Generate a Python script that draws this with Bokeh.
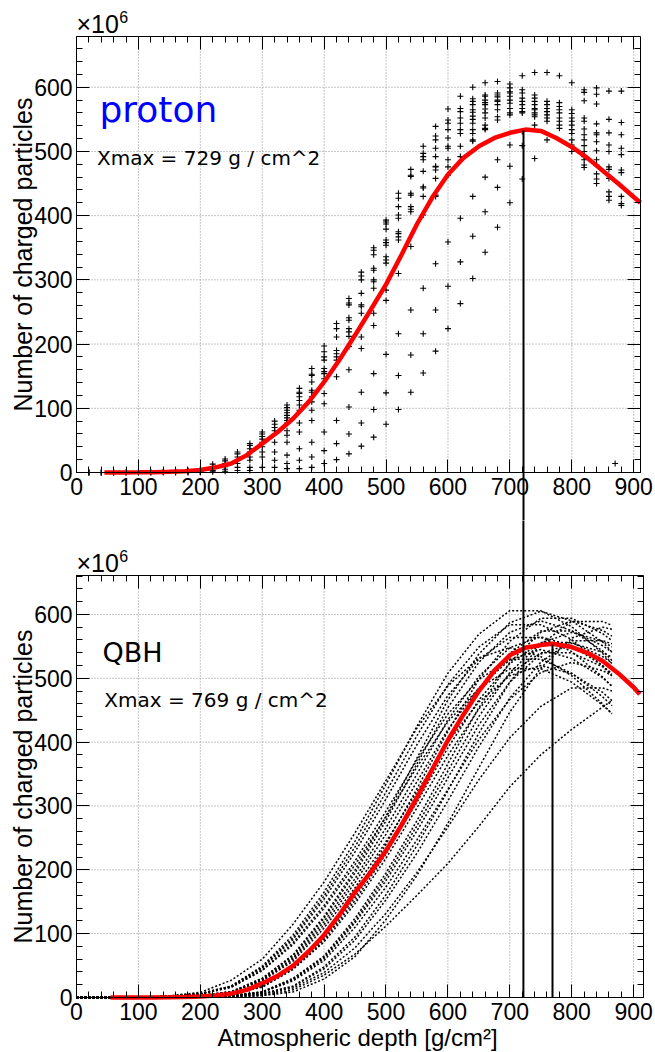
from bokeh.plotting import figure
from bokeh.models import Range1d, FixedTicker, LinearAxis, Label
from bokeh.layouts import column
from bokeh.embed import file_html
from bokeh.resources import INLINE

# ---------------- axes ----------------
x_ticks = [0, 100, 200, 300, 400, 500, 600, 700, 800, 900]
x_minor = list(range(0, 920, 20))
y_ticks = [0, 100, 200, 300, 400, 500, 600]
y_minor = list(range(0, 680, 20))

# ---------------- top panel: proton (x10^6 charged particles) ----------------
proton_columns = [20, 40, 60, 80, 100, 120, 140, 160, 180, 200, 220, 240, 260, 280, 300,
                  320, 340, 360, 380, 400, 420, 440, 460, 480, 500, 520, 540, 560, 580,
                  600, 620, 640, 660, 680, 700, 720, 740, 760, 780, 800, 820, 840, 860,
                  870, 880]
proton_counts = [
    [0, 0, 0], [0, 0, 0], [0, 0], [0, 0], [0, 0.5], [0, 0.5], [0, 1], [0, 1, 2],
    [0, 1, 2, 3], [0, 1, 2, 4, 5], [1, 3, 6, 9, 13], [2, 5, 9, 14, 18, 21],
    [3, 8, 14, 19, 24, 29, 32], [3, 8, 19, 24, 32, 37, 42, 45],
    [8, 24, 32, 40, 47, 52, 56, 60, 63], [8, 19, 32, 47, 60, 65, 70, 75, 80],
    [6, 14, 27, 47, 58, 65, 77, 81, 85, 89, 93, 97, 101, 105],
    [6, 19, 37, 63, 77, 97, 105, 112, 118, 123, 125, 131],
    [8, 24, 47, 81, 97, 110, 118, 125, 128, 141, 151, 153, 162],
    [14, 34, 63, 107, 123, 146, 154, 157, 162, 175, 180, 188, 197],
    [20, 45, 81, 149, 175, 180, 185, 190, 211, 224, 232],
    [29, 60, 102, 160, 196, 212, 219, 224, 237, 241, 261, 264, 271],
    [41, 77, 125, 193, 211, 248, 258, 261, 279, 300, 306, 312],
    [55, 98, 154, 229, 248, 287, 297, 300, 315, 318, 339, 346, 350],
    [75, 124, 184, 268, 284, 326, 331, 336, 354, 358, 362, 379, 387, 390, 393],
    [98, 151, 216, 310, 362, 367, 372, 375, 396, 401, 414, 427, 435],
    [125, 183, 253, 352, 406, 410, 414, 432, 435, 461, 463, 472],
    [155, 216, 287, 401, 430, 443, 445, 469, 487, 492, 497, 508],
    [189, 253, 325, 430, 432, 458, 471, 476, 477, 492, 505, 518, 524, 539],
    [224, 290, 359, 463, 476, 487, 505, 508, 521, 534, 544, 549, 566],
    [263, 328, 396, 492, 508, 528, 534, 544, 552, 562, 567, 586],
    [302, 368, 430, 516, 518, 528, 534, 544, 550, 555, 561, 565, 573, 578, 582, 600],
    [343, 406, 460, 534, 536, 541, 552, 560, 566, 573, 576, 580, 586, 588, 607],
    [382, 444, 487, 549, 554, 565, 573, 578, 580, 585, 588, 591, 609],
    [420, 477, 510, 557, 560, 567, 575, 580, 586, 591, 593, 599, 605],
    [457, 509, 531, 560, 562, 567, 573, 578, 583, 591, 596, 618],
    [489, 541, 554, 557, 560, 565, 567, 573, 578, 583, 588, 623],
    [518, 547, 552, 557, 562, 567, 573, 578, 623],
    [536, 541, 547, 552, 560, 565, 570, 576, 618],
    [500, 510, 518, 528, 534, 541, 547, 552, 559, 565, 607],
    [475, 479, 487, 492, 500, 509, 518, 526, 535, 547, 552, 579, 592, 596],
    [450, 457, 465, 479, 487, 501, 515, 526, 529, 543, 574, 589, 599],
    [424, 430, 437, 458, 472, 476, 500, 510, 529, 550, 594],
    [14],
    [416, 419, 430, 467, 471, 495, 505, 526, 545, 594],
]
proton_fit_depth = [45, 75, 100, 125, 150, 175, 200, 225, 250, 275, 300, 325, 350, 375, 400,
                    425, 450, 475, 500, 525, 550, 575, 600, 625, 650, 675, 700, 725, 750,
                    775, 800, 825, 850, 875, 900, 911]
proton_fit = [0, 0, 0.2, 0.5, 1, 2, 4, 8, 14, 27, 45, 63, 84, 110, 141,
              176, 214, 253, 293, 339, 387, 429, 464, 490, 508, 521, 529, 534, 532,
              521, 507, 490, 470, 450, 429, 420]
proton_xmax_line = [722]
proton_xmax_top = [533]

# ---------------- bottom panel: QBH ----------------
qbh_depth = [0, 50, 100, 150, 200, 250, 300, 350, 400, 450, 500, 550, 600, 650, 700,
             750, 800, 850, 865]
qbh_showers = [
    [0, 0.1, 0.6, 1.8, 6, 18, 49, 98, 165, 245, 334, 425, 508, 569, 606, 606, 581, 539, 523],
    [0, 0, 0.3, 0.9, 3, 9, 30, 67, 127, 200, 284, 375, 466, 538, 587, 605, 590, 557, 541],
    [0, 0.1, 0.6, 1.8, 6, 18, 47, 94, 159, 236, 322, 410, 490, 549, 584, 584, 561, 519, 504],
    [0, 0, 0.3, 0.9, 3, 9, 30, 65, 124, 195, 277, 366, 454, 525, 572, 590, 575, 543, 528],
    [0, 0, 0.1, 0.6, 1.8, 6, 18, 48, 96, 162, 240, 327, 417, 498, 558, 594, 594, 570, 559],
    [0, 0, 0.1, 0.6, 1.7, 6, 17, 46, 93, 157, 232, 316, 403, 481, 539, 574, 574, 551, 541],
    [0, 0.3, 0.8, 2.7, 8, 27, 60, 115, 181, 258, 340, 422, 488, 532, 548, 534, 504, 460, 444],
    [0, 0.1, 0.6, 1.7, 6, 17, 46, 91, 154, 228, 311, 396, 473, 530, 564, 564, 542, 502, 487],
    [0, 0, 0.3, 0.8, 2.8, 8.5, 28, 62, 119, 186, 266, 350, 435, 503, 548, 565, 551, 520, 506],
    [0, 0, 0.1, 0.6, 1.7, 5.6, 17, 45, 90, 152, 225, 306, 391, 466, 523, 556, 556, 534, 524],
    [0, 0, 0, 0.3, 0.9, 3, 8.9, 30, 65, 124, 195, 277, 366, 454, 525, 572, 590, 575, 566],
    [0, 0, 0, 0.3, 0.9, 2.9, 8.6, 29, 63, 120, 189, 269, 355, 440, 509, 555, 572, 558, 549],
    [0, 0, 0, 0.1, 0.6, 1.8, 6, 18, 48, 95, 161, 238, 324, 414, 494, 553, 589, 589, 583],
    [0, 0, 0.1, 0.5, 1.6, 5.5, 16, 44, 87, 147, 218, 297, 379, 452, 507, 540, 540, 518, 508],
    [0, 0, 0.3, 0.8, 2.7, 8.2, 27, 60, 114, 180, 256, 338, 420, 485, 529, 545, 531, 501, 488],
    [0, 0.1, 0.5, 1.6, 5.4, 16, 43, 86, 144, 214, 292, 372, 444, 498, 530, 530, 508, 471, 457],
    [0, 0.1, 0.5, 1.6, 5.2, 16, 42, 83, 140, 208, 283, 361, 432, 484, 515, 515, 494, 458, 445],
    [0, 0, 0, 0.3, 0.8, 2.8, 8.3, 28, 61, 117, 183, 261, 344, 427, 494, 538, 555, 541, 533],
    [0, 0, 0, 0.1, 0.6, 1.7, 5.7, 17, 45, 90, 153, 226, 308, 393, 469, 525, 559, 559, 554],
    [0, 0, 0, 0, 0.3, 0.9, 2.9, 8.7, 29, 64, 122, 191, 273, 360, 447, 516, 563, 580, 577],
    [0, 0, 0, 0.3, 0.8, 2.6, 7.9, 26, 58, 110, 173, 247, 326, 404, 467, 509, 525, 512, 504],
    [0, 0, 0, 0.1, 0.5, 1.5, 4.9, 15, 39, 78, 132, 196, 267, 341, 407, 456, 485, 485, 480],
    [0, 0, 0.3, 0.8, 2.6, 7.8, 26, 57, 109, 172, 244, 322, 400, 463, 504, 520, 507, 478, 465],
    [0, 0, 0, 0, 0.2, 0.5, 3, 12, 35, 68, 112, 160, 210, 268, 330, 380, 420, 455, 465],
]
qbh_fit_depth = [55, 75, 100, 125, 150, 175, 200, 225, 250, 275, 300, 325, 350, 375, 400,
                 425, 450, 475, 500, 525, 550, 575, 600, 625, 650, 675, 700, 725, 750,
                 769, 800, 825, 850, 875, 900, 910]
qbh_fit = [0, 0, 0, 0.1, 0.3, 0.8, 1.5, 3, 6, 12, 22, 34, 50, 72, 98,
           130, 165, 196, 230, 270, 313, 358, 403, 443, 480, 512, 536, 548, 552,
           554, 549, 540, 527, 508, 486, 475]
qbh_lines = [722, 769]
qbh_line_tops = [900, 553]

TICK_FONT = "Liberation Sans"
TEXT_FONT = "DejaVu Sans"
GRID_COLOR = "#8c8c8c"


def make_panel(height, x_lo, x_hi, x_end, y_lo, y_hi, y_top, y_title_y):
    """The frame fills the whole canvas; the data box is 0..x_end by 0..y_top."""
    p = figure(width=655, height=height, x_range=Range1d(x_lo, x_hi), y_range=Range1d(y_lo, y_hi),
               output_backend="svg", toolbar_location=None, x_axis_type=None, y_axis_type=None,
               min_border_left=0, min_border_right=0, min_border_top=0, min_border_bottom=0)
    p.outline_line_color = None
    p.background_fill_color = "white"
    p.border_fill_color = "white"
    xt = FixedTicker(ticks=x_ticks, minor_ticks=x_minor)
    yt = FixedTicker(ticks=y_ticks, minor_ticks=y_minor)

    # dotted grid limited to the data box
    gx = x_ticks[1:]
    p.segment(x0=gx, y0=[0] * len(gx), x1=gx, y1=[y_top] * len(gx),
              line_color=GRID_COLOR, line_dash="1 2", line_width=1)
    gy = y_ticks[1:]
    p.segment(x0=[0] * len(gy), y0=gy, x1=[x_end] * len(gy), y1=gy,
              line_color=GRID_COLOR, line_dash="1 2", line_width=1)

    def base(ax):
        ax.axis_line_color = "black"
        ax.axis_line_width = 1
        ax.major_tick_line_color = "black"
        ax.minor_tick_line_color = "black"
        ax.major_tick_in = 13
        ax.major_tick_out = 0
        ax.minor_tick_in = 6
        ax.minor_tick_out = 0
        return ax

    bottom = base(LinearAxis(ticker=xt, fixed_location=0, bounds=(0, x_end)))
    bottom.major_label_text_font = TICK_FONT
    bottom.major_label_text_font_size = "23px"
    bottom.major_label_text_color = "black"
    bottom.major_label_standoff = 6
    p.add_layout(bottom, "below")

    top = base(LinearAxis(ticker=xt, fixed_location=y_top, bounds=(0, x_end)))
    top.major_label_text_color = None
    p.add_layout(top, "above")

    right = base(LinearAxis(ticker=yt, fixed_location=x_end, bounds=(0, y_top)))
    right.major_label_text_color = None
    p.add_layout(right, "right")

    left = base(LinearAxis(ticker=yt, fixed_location=0, bounds=(0, y_top)))
    left.major_label_text_font = TICK_FONT
    left.major_label_text_font_size = "23px"
    left.major_label_text_color = "black"
    left.major_label_standoff = 4
    p.add_layout(left, "left")

    p.add_layout(Label(x=-87, y=y_title_y, text="Number of charged particles", angle=90,
                       angle_units="deg", text_align="center", text_baseline="alphabetic",
                       text_font=TICK_FONT, text_font_size="25px", text_color="black"))
    return p


def add_exponent(p, y_base, y_sup):
    p.add_layout(Label(x=0, y=y_base, text="\u00d710", text_align="left",
                       text_baseline="alphabetic", text_font=TICK_FONT,
                       text_font_size="25px", text_color="black"))
    p.add_layout(Label(x=69, y=y_sup, text="6", text_align="left",
                       text_baseline="alphabetic", text_font=TICK_FONT,
                       text_font_size="16px", text_color="black"))


# ---- top: canvas 0..520 px; x: 0 at 76 px, 911 at 640 px; y: 0 at 472 px, 679 at 36 px ----
top = make_panel(520, -122.8, 935.2, 911, -74.8, 735.1, 679, 339.5)
xs, ys = [], []
for d, vals in zip(proton_columns, proton_counts):
    xs.extend([d] * len(vals))
    ys.extend(vals)
top.scatter(xs, ys, marker="cross", size=6, line_color="black", line_width=1.1)
top.line(proton_fit_depth, proton_fit, line_color="#ff0000", line_width=4.5)
top.segment(x0=proton_xmax_line, y0=proton_xmax_top, x1=proton_xmax_line, y1=[-200],
            line_color="black", line_width=2)
top.add_layout(Label(x=37, y=565, text="proton", text_font=TEXT_FONT, text_font_size="36px",
                     text_color="#0000ff", text_baseline="alphabetic"))
top.add_layout(Label(x=33, y=490, text="Xmax = 729 g / cm^2", text_font=TEXT_FONT,
                     text_font_size="20px", text_color="black", text_baseline="alphabetic"))
add_exponent(top, 698, 710)

# ---- bottom: canvas 520..1052 px; x: 0 at 76 px, 916 at 643 px; y: 0 at 997 px, 661 at 575 px ----
bot = make_panel(532, -122.8, 935.4, 916, -86.2, 747.2, 661, 330.5)
for vals in qbh_showers:
    bot.line(qbh_depth, vals, line_color="black", line_width=1.5, line_dash="2 2")
bot.line(qbh_fit_depth, qbh_fit, line_color="#ff0000", line_width=4.5)
bot.segment(x0=qbh_lines, y0=qbh_line_tops, x1=qbh_lines, y1=[0, 0],
            line_color="black", line_width=2)
bot.add_layout(Label(x=42, y=540, text="QBH", text_font=TEXT_FONT, text_font_size="27px",
                     text_color="black", text_baseline="alphabetic"))
bot.add_layout(Label(x=45, y=466, text="Xmax = 769 g / cm^2", text_font=TEXT_FONT,
                     text_font_size="20px", text_color="black", text_baseline="alphabetic"))
add_exponent(bot, 680, 691)
bot.add_layout(Label(x=454, y=-62, text="Atmospheric depth [g/cm\u00b2]", text_align="center",
                     text_baseline="alphabetic", text_font=TICK_FONT, text_font_size="24px",
                     text_color="black"))

layout = column(top, bot, spacing=0)
open("out.html", "w").write(file_html(layout, INLINE))
